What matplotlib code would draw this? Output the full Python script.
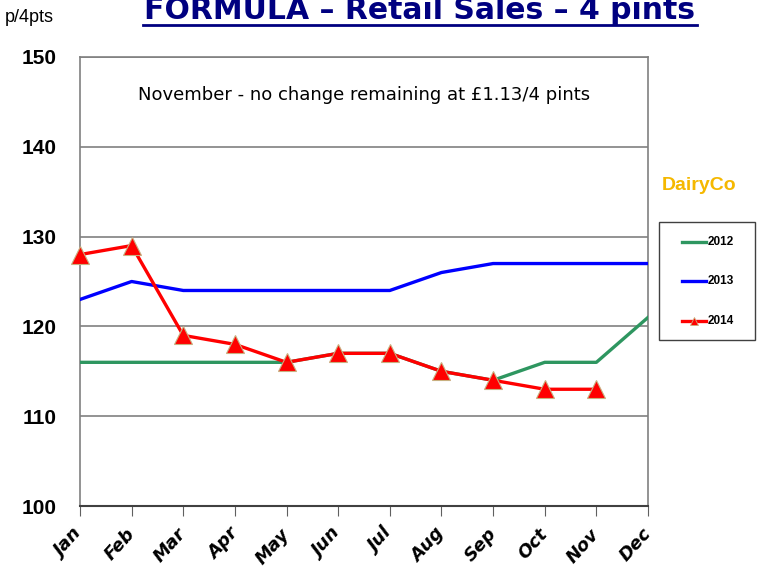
import matplotlib
matplotlib.use("Agg")
import matplotlib.pyplot as plt
from matplotlib.lines import Line2D
from matplotlib.patches import Rectangle

months = ["Jan", "Feb", "Mar", "Apr", "May", "Jun", "Jul", "Aug", "Sep", "Oct", "Nov", "Dec"]
s2012 = [116, 116, 116, 116, 116, 117, 117, 115, 114, 116, 116, 121]
s2013 = [123, 125, 124, 124, 124, 124, 124, 126, 127, 127, 127, 127]
s2014 = [128, 129, 119, 118, 116, 117, 117, 115, 114, 113, 113]
yticks = [100, 110, 120, 130, 140, 150]
series_names = ["2012", "2013", "2014"]

W, H = 757, 573
fig = plt.figure(figsize=(W/100, H/100), dpi=100)
ax = fig.add_axes([80/W, 1-506/H, 568/W, 449/H])

def fx(px):
    return px / W

def fy(py):
    return 1 - py / H

green, blue, red = "#2e9660", "#0000ff", "#ff0000"
edge = "#c8b080"

x = list(range(len(months)))
ax.plot(x, s2012, color=green, lw=2.4, zorder=3)
ax.plot(x, s2013, color=blue, lw=2.4, zorder=3)
ax.plot(x[:len(s2014)], s2014, color=red, lw=2.4, marker="^", markersize=13,
        markerfacecolor=red, markeredgecolor=edge, markeredgewidth=0.8, zorder=4, clip_on=False)

ax.set_xlim(0, 11)
ax.set_ylim(100, 150)
ax.set_yticks(yticks)
ax.set_yticklabels([str(v) for v in yticks], fontsize=15, fontweight="bold", family="Liberation Sans")
ax.set_xticks(x)
ax.set_xticklabels(months, rotation=48, ha="right", va="center", rotation_mode="anchor", fontsize=13,
                   style="oblique", fontweight="bold", family="DejaVu Sans")
ax.grid(axis="y", color="#808080", lw=1.2)
for s in ["left", "top", "right"]:
    ax.spines[s].set_color("#808080")
    ax.spines[s].set_linewidth(1.2)
ax.spines["bottom"].set_color("#404040")
ax.spines["bottom"].set_linewidth(1.5)
ax.tick_params(axis="x", direction="out", length=7, color="#606060", pad=11)
ax.tick_params(axis="y", direction="out", length=0, pad=16.5)

ax.text(0.5, 0.915, "November - no change remaining at £1.13/4 pints", transform=ax.transAxes,
        ha="center", va="center", fontsize=13, family="DejaVu Sans")

fig.text(fx(420), fy(19), "FORMULA – Retail Sales – 4 pints", ha="center", va="baseline",
         fontsize=21.5, fontweight="bold", color="#000080", family="DejaVu Sans")
fig.add_artist(Line2D([fx(143), fx(697)], [fy(24.5), fy(24.5)], color="#000080", lw=2))
fig.text(fx(5), fy(18), "p/4pts", ha="left", va="center", fontsize=13, family="Liberation Sans")
fig.text(fx(699), fy(186), "DairyCo", ha="center", va="center", fontsize=14, fontweight="bold",
         color="#f5b800", family="Liberation Sans")

# legend box
fig.add_artist(Rectangle((fx(659), fy(340)), fx(96), 118/H, transform=fig.transFigure,
                         facecolor="white", edgecolor="#404040", lw=1.0))
colors = [green, blue, red]
ys = [242, 281, 321]
for name, c, yy in zip(series_names, colors, ys):
    fig.add_artist(Line2D([fx(682), fx(706)], [fy(yy), fy(yy)], color=c, lw=2.4))
    if name == "2014":
        fig.add_artist(Line2D([fx(694)], [fy(yy)], marker="^", markersize=6, color=red,
                              markeredgecolor=edge, markeredgewidth=0.6, lw=0))
    fig.text(fx(708), fy(yy), name, ha="left", va="center", fontsize=8.5, fontweight="bold",
             family="Liberation Sans")

fig.savefig("out.png", dpi=100)
